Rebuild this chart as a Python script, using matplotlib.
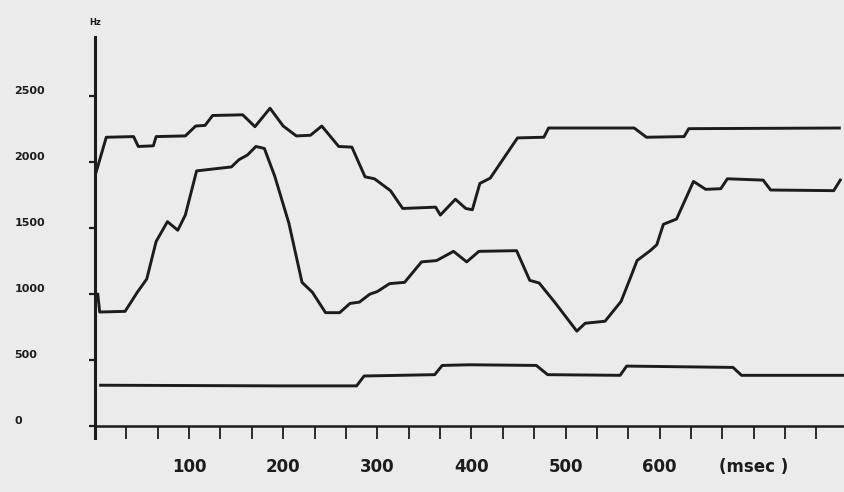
import numpy as np
import matplotlib.pyplot as plt

# formant tracks (time in ms, frequency in Hz)
f3_t = [1, 12, 41, 46, 62, 65, 96, 107, 117, 125, 157, 170, 186, 200, 214, 229,
        241, 259, 273, 287, 297, 314, 327, 362, 367, 383, 394, 401, 409, 420,
        449, 477, 482, 573, 586, 626, 631, 791]
f3_hz = [1920, 2190, 2195, 2120, 2125, 2195, 2200, 2275, 2280, 2355, 2360, 2270,
         2410, 2275, 2200, 2205, 2275, 2120, 2115, 1890, 1875, 1785, 1650, 1660,
         1600, 1720, 1650, 1640, 1840, 1880, 2185, 2190, 2260, 2260, 2190, 2195,
         2255, 2260]

f2_t = [3, 5, 32, 45, 55, 65, 77, 88, 96, 108, 145, 153, 162, 171, 180, 191, 206,
        220, 231, 245, 260, 271, 281, 292, 300, 313, 329, 347, 363, 381, 395,
        408, 448, 462, 472, 489, 512, 521, 542, 559, 569, 576, 590, 597, 604,
        618, 636, 649, 665, 672, 710, 718, 785, 792]
f2_hz = [1000, 865, 870, 1015, 1115, 1400, 1550, 1485, 1600, 1935, 1965, 2020,
         2055, 2120, 2105, 1895, 1540, 1090, 1015, 860, 860, 930, 940, 1000, 1020,
         1080, 1090, 1245, 1255, 1325, 1245, 1325, 1330, 1105, 1085, 935, 720,
         780, 795, 945, 1125, 1255, 1330, 1375, 1530, 1570, 1855, 1795, 1800,
         1875, 1865, 1790, 1785, 1865]

f1_t = [6, 196, 278, 286, 361, 369, 398, 469, 481, 558, 565, 678, 687, 797]
f1_hz = [310, 305, 305, 380, 390, 460, 465, 460, 390, 385, 455, 445, 385, 385]

y_ticks = [0, 500, 1000, 1500, 2000, 2500]
x_ticks = [100, 200, 300, 400, 500, 600, 700]
x_labels = ["100", "200", "300", "400", "500", "600", "(msec )"]

BG = "#ebebeb"
INK = "#1c1c1c"

fig = plt.figure(figsize=(8.45, 4.92), dpi=100, facecolor=BG)
ax = fig.add_axes([0.1124, 0.1098, 0.8876, 0.815], facecolor=BG)

for t, hz in [(f3_t, f3_hz), (f2_t, f2_hz), (f1_t, f1_hz)]:
    ax.plot(t, hz, color=INK, lw=2.1, solid_joinstyle="round")

ax.set_xlim(0, 797)
ax.set_ylim(-90, 2950)

for side in ("top", "right"):
    ax.spines[side].set_visible(False)
ax.spines["left"].set_linewidth(2.2)
ax.spines["left"].set_color(INK)
ax.spines["bottom"].set_position(("data", 0))
ax.spines["bottom"].set_linewidth(1.8)
ax.spines["bottom"].set_color(INK)

# x axis: a tick every third of 100 ms, labels on the hundreds
ax.set_xticks(x_ticks)
ax.set_xticklabels(x_labels, fontsize=12, fontweight="bold", color=INK)
ax.set_xticks(np.arange(100 / 3, 797, 100 / 3), minor=True)
ax.tick_params(axis="x", which="both", direction="out", length=9, width=1.3,
               color=INK, pad=14)

ax.set_yticks(y_ticks)
ax.set_yticklabels([str(v) for v in y_ticks], fontsize=8, fontweight="bold",
                   color=INK)
ax.tick_params(axis="y", direction="out", length=4, width=1.6, color=INK,
               pad=54)
for lab in ax.get_yticklabels():
    lab.set_horizontalalignment("left")
    lab.set_verticalalignment("bottom")

fig.text(0.113, 0.955, "Hz", fontsize=6, fontweight="bold", color=INK,
         ha="center", va="center")

fig.savefig("out.png", dpi=100, facecolor=BG)
